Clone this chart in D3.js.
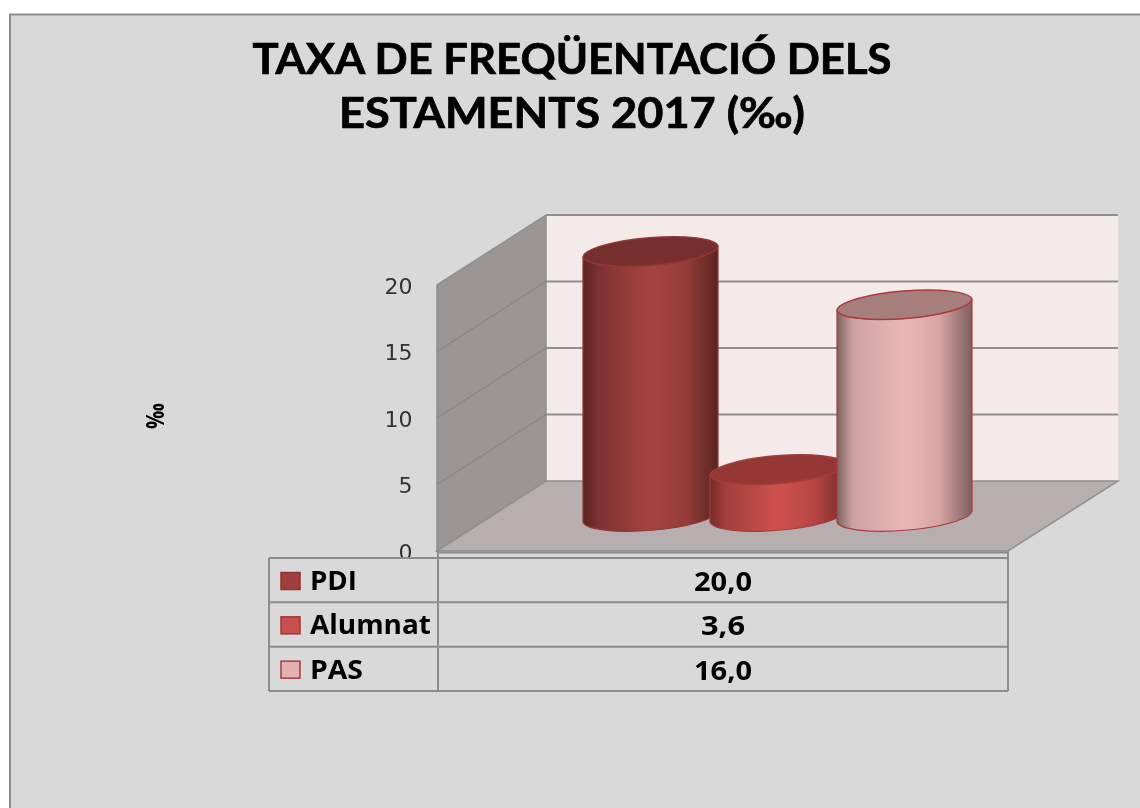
<!DOCTYPE html>
<html><head><meta charset="utf-8">
<script src="https://cdn.jsdelivr.net/npm/d3@7"></script>
<style>html,body{margin:0;padding:0;background:#fff}svg{display:block;filter:blur(0.4px)}</style></head>
<body><svg id="c" width="1140" height="808"></svg>
<script>
const categories = ["PDI","Alumnat","PAS"];
const values = [20.0,3.6,16.0];
const valueLabels = ["20,0","3,6","16,0"];
const yTicks = [0,5,10,15,20];
const titleLines = ["TAXA DE FREQÜENTACIÓ DELS","ESTAMENTS 2017 (‰)"];
const sideStops = [
 ["#5a2422","#7f3230","#a34340","#a34340","#953d3a","#5a2422"],
 ["#752b29","#a43f3c","#cb504c","#cb504c","#b84744","#7a2d2b"],
 ["#7d6261","#cda3a2","#e8b5b5","#e8b5b5","#d6a4a3","#7d5f5e"]];
const topFills = ["#772f2d","#943735","#a67f7d"];
const strokes = ["#8f3734","#a33d3a","#a83c3c"];
const swatchFills = ["#a13f3c","#c8504c","#e3afaf"];
const swatchStrokes = ["#8f3432","#993a37","#a33d3d"];

const svg = d3.select("#c");
const grid = "#8f8f8f";
const FONT = "'Open Sans',sans-serif";
const depthX = 109, depthY = 70;
const y = d3.scaleLinear().domain([0,20]).range([551,285]);
const frontX0 = 437, frontX1 = 1008;
const x = d3.scaleBand().domain(categories).range([587,968]).paddingInner(0).paddingOuter(0);

svg.append("rect").attr("x",10).attr("y",14.5).attr("width",1135).attr("height",800)
  .attr("fill","#d9d9d9").attr("stroke","#8c8c8c").attr("stroke-width",2);

// title
titleLines.forEach((t,i)=>{
  svg.append("text").text(t).attr("x",572).attr("y",[74,128][i])
    .attr("text-anchor","middle").attr("font-family","Lato,sans-serif").attr("font-weight",700)
    .attr("font-size",42).attr("fill","#000").attr("stroke","#000").attr("stroke-width",0.7)
    .attr("textLength",[639,466][i]).attr("lengthAdjust","spacingAndGlyphs");
});

// walls
const line = d3.line();
svg.append("path").attr("d",line([[frontX0+depthX,y(20)-depthY],[frontX1+depthX+1,y(20)-depthY],[frontX1+depthX+1,y(0)-depthY],[frontX0+depthX,y(0)-depthY]])+"Z").attr("fill","#f5eaea");
svg.append("path").attr("d",line([[frontX0,y(0)],[frontX0,y(20)],[frontX0+depthX,y(20)-depthY],[frontX0+depthX,y(0)-depthY]])+"Z").attr("fill","#9b9695").attr("stroke","#909090").attr("stroke-width",1.5);
svg.append("path").attr("d",line([[frontX0,y(0)],[frontX0+depthX,y(0)-depthY],[frontX1+depthX+1,y(0)-depthY],[frontX1,y(0)]])+"Z").attr("fill","#b7afaf").attr("stroke",grid).attr("stroke-width",1.5);

yTicks.forEach(t=>{
  if(t>0) svg.append("path").attr("d",line([[frontX0+depthX,y(t)-depthY],[frontX1+depthX+1,y(t)-depthY]])).attr("stroke",grid).attr("stroke-width",2).attr("fill","none");
  if(t>0&&t<20) svg.append("path").attr("d",line([[frontX0,y(t)],[frontX0+depthX,y(t)-depthY]])).attr("stroke","#858a88").attr("stroke-width",1.5).attr("fill","none");
});

// y axis
const axisG = svg.append("g").attr("transform","translate(412.5,1)")
  .call(d3.axisLeft(y).tickValues(yTicks).tickSize(0).tickPadding(0).tickFormat(d3.format("d")));
axisG.select(".domain").remove();
axisG.selectAll("text").attr("font-family","'DejaVu Sans',sans-serif").attr("font-size",22).attr("fill","#333");

svg.append("text").text("‰").attr("transform","translate(164,416) rotate(-90)")
  .attr("text-anchor","middle").attr("font-family",FONT).attr("font-weight",700).attr("font-size",25).attr("fill","#000")
  .attr("textLength",26).attr("lengthAdjust","spacingAndGlyphs");

// gradients
const defs = svg.append("defs");
const offs = [0,0.12,0.47,0.55,0.76,1];
categories.forEach((c,i)=>{
  const g = defs.append("linearGradient").attr("id","g"+i).attr("x1",0).attr("x2",1).attr("y1",0).attr("y2",0);
  sideStops[i].forEach((col,k)=>g.append("stop").attr("offset",offs[k]).attr("stop-color",col));
});

// cylinders
const w = 135, rx = 67.8, ry = 14.5, rise = 11, rot = -4.66, baseLeft = 522;
const yHeight = v => y(0)-y(v);
categories.forEach((c,i)=>{
  const cx = x(c)+x.bandwidth()/2, xl = cx-w/2, xr = cx+w/2;
  const tl = baseLeft-yHeight(values[i])+1, tr = tl-rise;
  const bl = baseLeft, br = bl-rise;
  svg.append("path")
    .attr("d",`M${xl},${tl}L${xl},${bl}A${rx},${ry} ${rot} 0 0 ${xr},${br}L${xr},${tr}A${rx},${ry} ${rot} 0 1 ${xl},${tl}Z`)
    .attr("fill",`url(#g${i})`).attr("stroke",strokes[i]).attr("stroke-width",1.2);
  svg.append("path")
    .attr("d",`M${xl},${tl}A${rx},${ry} ${rot} 0 0 ${xr},${tr}A${rx},${ry} ${rot} 0 0 ${xl},${tl}Z`)
    .attr("fill",topFills[i]).attr("stroke",strokes[i]).attr("stroke-width",1.5);
});

// data table
const rowY = d3.scalePoint().domain(d3.range(4)).range([558,691]);
svg.append("rect").attr("x",269).attr("y",557).attr("width",739).attr("height",134).attr("fill","#d9d9d9");
const tbl = "#8c8c8c";
d3.range(4).forEach(r=>{
  svg.append("line").attr("x1",269).attr("x2",1008).attr("y1",rowY(r)).attr("y2",rowY(r)).attr("stroke",tbl).attr("stroke-width",2);
});
svg.append("line").attr("x1",frontX0).attr("x2",frontX1).attr("y1",552.5).attr("y2",552.5).attr("stroke",tbl).attr("stroke-width",2);
[[269,558],[438,551],[1008,551]].forEach(([px,py])=>{
  svg.append("line").attr("x1",px).attr("x2",px).attr("y1",py).attr("y2",691).attr("stroke",tbl).attr("stroke-width",2);
});
categories.forEach((c,i)=>{
  const top = rowY(i);
  svg.append("rect").attr("x",281).attr("y",top+14.5).attr("width",19).attr("height",17)
    .attr("fill",swatchFills[i]).attr("stroke",swatchStrokes[i]).attr("stroke-width",1.5);
  svg.append("text").text(c).attr("x",310).attr("y",top+32)
    .attr("font-family",FONT).attr("font-weight",700).attr("font-size",26).attr("fill","#000")
    .attr("textLength",[47,121,53][i]).attr("lengthAdjust","spacingAndGlyphs");
  svg.append("text").text(valueLabels[i]).attr("x",723).attr("y",top+33)
    .attr("text-anchor","middle").attr("font-family",FONT).attr("font-weight",700).attr("font-size",26).attr("fill","#000")
    .attr("textLength",[58,44,58][i]).attr("lengthAdjust","spacingAndGlyphs");
});
</script></body></html>
